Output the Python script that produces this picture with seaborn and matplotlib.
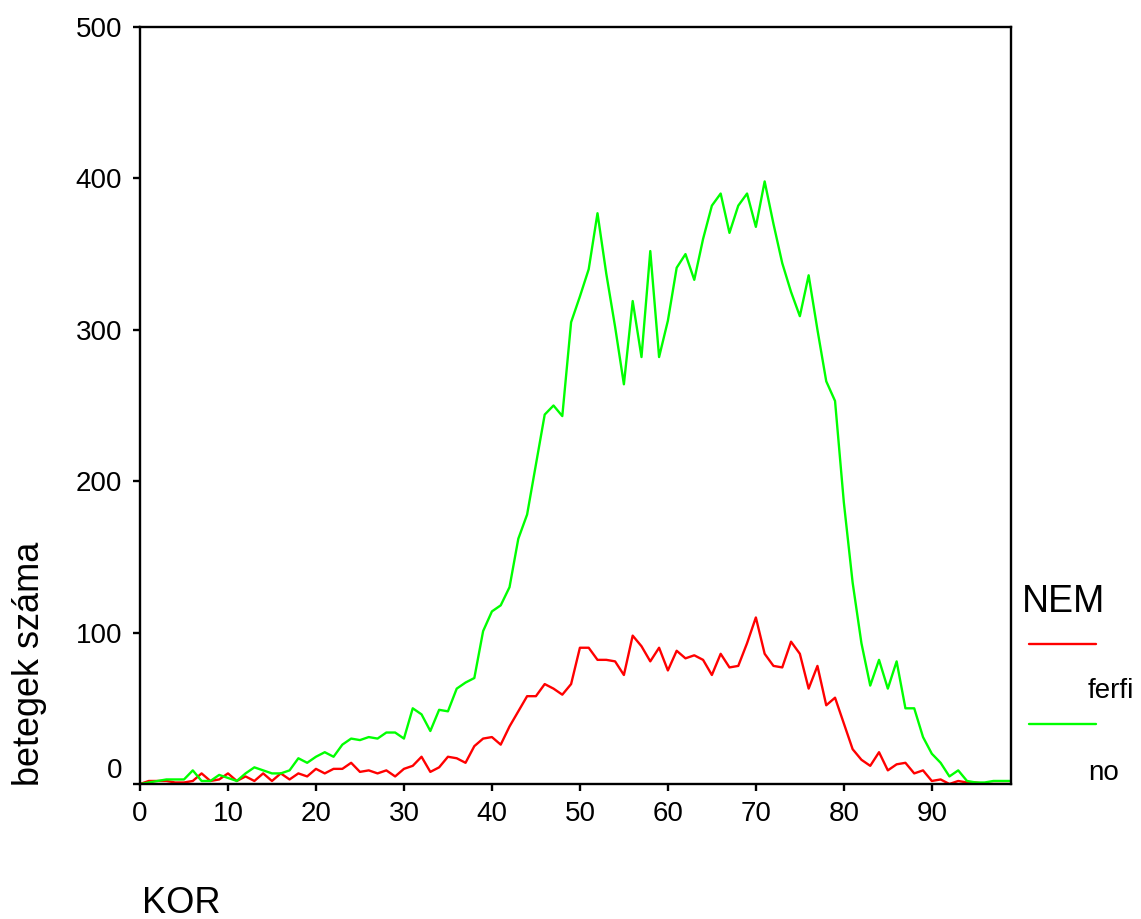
import pandas as pd
import seaborn as sns
import matplotlib.pyplot as plt
from matplotlib.lines import Line2D

ages = list(range(100))
ferfi = [0, 2, 2, 2, 1, 1, 2, 7, 2, 3,
         7, 2, 5, 2, 7, 2, 7, 3, 7, 5,
         10, 7, 10, 10, 14, 8, 9, 7, 9, 5,
         10, 12, 18, 8, 11, 18, 17, 14, 25, 30,
         31, 26, 38, 48, 58, 58, 66, 63, 59, 66,
         90, 90, 82, 82, 81, 72, 98, 91, 81, 90,
         75, 88, 83, 85, 82, 72, 86, 77, 78, 93,
         110, 86, 78, 77, 94, 86, 63, 78, 52, 57,
         40, 23, 16, 12, 21, 9, 13, 14, 7, 9,
         2, 3, 0, 2, 1, 1, 0, 0, 0, 0]
no = [0, 1, 2, 3, 3, 3, 9, 2, 2, 6,
      4, 2, 7, 11, 9, 7, 7, 9, 17, 14,
      18, 21, 18, 26, 30, 29, 31, 30, 34, 34,
      30, 50, 46, 35, 49, 48, 63, 67, 70, 101,
      114, 118, 130, 162, 178, 211, 244, 250, 243, 305,
      322, 340, 377, 337, 302, 264, 319, 282, 352, 282,
      306, 341, 350, 333, 360, 382, 390, 364, 382, 390,
      368, 398, 370, 344, 325, 309, 336, 300, 266, 253,
      186, 133, 93, 65, 82, 63, 81, 50, 50, 31,
      20, 14, 5, 9, 2, 1, 1, 2, 2, 2]
groups = ["ferfi", "no"]
colors = {"ferfi": "#ff0000", "no": "#00ff00"}

df = pd.concat([
    pd.DataFrame({"KOR": ages, "count": ferfi, "NEM": "ferfi"}),
    pd.DataFrame({"KOR": ages, "count": no, "NEM": "no"}),
])

sns.set_style("white")
plt.rcParams['font.family'] = ['Liberation Sans', 'DejaVu Sans']
plt.rcParams['text.color'] = 'black'

fig = plt.figure(figsize=(11.41, 9.19), dpi=100)
ax = fig.add_axes([140 / 1141, 1 - 784 / 919, 871 / 1141, 757 / 919])
sns.lineplot(data=df, x="KOR", y="count", hue="NEM", hue_order=groups,
             palette=colors, linewidth=1.7, legend=False, ax=ax)

ax.set_xlim(0, 99)
ax.set_ylim(0, 500)
ax.set_xticks(range(0, 100, 10))
ax.set_yticks(range(0, 501, 100))
ax.set_xlabel("")
ax.set_ylabel("")
ax.tick_params(axis="both", direction="out", length=5, width=1.7,
               labelsize=20, colors="black", bottom=True, left=True)
ax.tick_params(axis="x", pad=7)
ax.tick_params(axis="y", pad=8)
for s in ax.spines.values():
    s.set_color("black")
    s.set_linewidth(1.7)
ax.get_yticklabels()[0].set_va("bottom")

fig.text(142 / 1141, 1 - 913 / 919, "KOR", fontsize=26, ha="left", va="baseline")
fig.text(30 / 1141, 1 - 664 / 919, "betegek száma", fontsize=26,
         rotation=90, ha="center", va="center")

# legend drawn by hand: title, then each line with its label below-right
fig.text(1022 / 1141, 1 - 612 / 919, "NEM", fontsize=27, va="baseline")
for name, ly, ty in [("ferfi", 644, 698), ("no", 724, 780)]:
    fig.add_artist(Line2D([1029 / 1141, 1096 / 1141], [1 - ly / 919] * 2,
                          color=colors[name], lw=1.7, transform=fig.transFigure))
    fig.text(1088 / 1141, 1 - ty / 919, name, fontsize=20, va="baseline")

plt.savefig("out.png", dpi=100)
